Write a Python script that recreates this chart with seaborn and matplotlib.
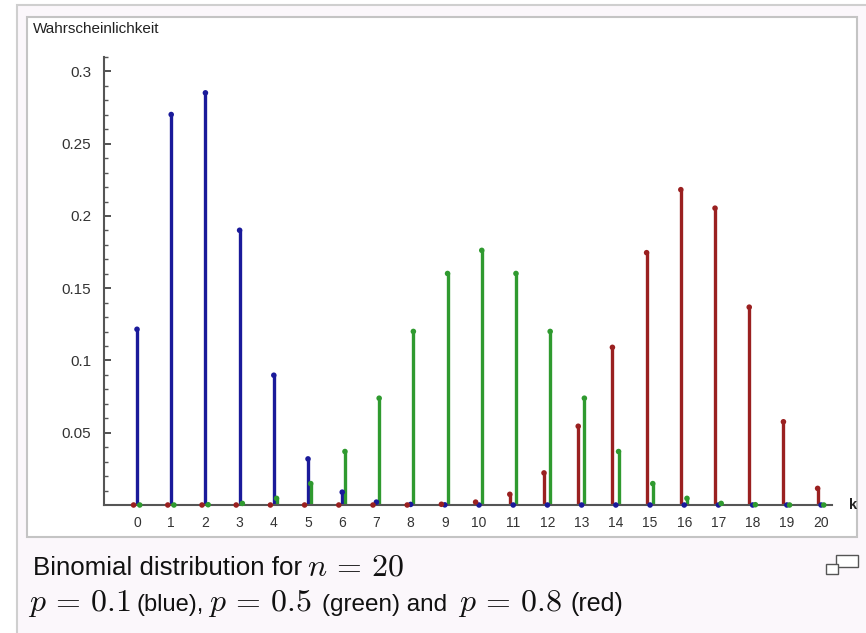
import matplotlib
matplotlib.use("Agg")
import matplotlib.pyplot as plt
import seaborn as sns
import pandas as pd
from matplotlib.patches import Rectangle

# ---- data ----
k_values = list(range(21))
p_blue = [0.1216, 0.2702, 0.2852, 0.1901, 0.0898, 0.0319, 0.0089, 0.0020, 0.0004, 0.0001,
          0.0, 0.0, 0.0, 0.0, 0.0, 0.0, 0.0, 0.0, 0.0, 0.0, 0.0]
p_green = [0.0, 0.0, 0.0002, 0.0011, 0.0046, 0.0148, 0.0370, 0.0739, 0.1201, 0.1602, 0.1762,
           0.1602, 0.1201, 0.0739, 0.0370, 0.0148, 0.0046, 0.0011, 0.0002, 0.0, 0.0]
p_red = [0.0, 0.0, 0.0, 0.0, 0.0, 0.0, 0.0, 0.0, 0.0, 0.0005, 0.0020,
         0.0074, 0.0222, 0.0545, 0.1091, 0.1746, 0.2182, 0.2054, 0.1369, 0.0576, 0.0115]
series_names = ["p=0.1", "p=0.5", "p=0.8"]
y_ticks = [0.05, 0.1, 0.15, 0.2, 0.25, 0.3]
y_tick_labels = ["0.05", "0.1", "0.15", "0.2", "0.25", "0.3"]
x_tick_labels = [str(k) for k in k_values]

colors = {"p=0.8": "#9a2020", "p=0.1": "#1a1a9a", "p=0.5": "#2f9a2f"}
offsets = {"p=0.8": -0.1, "p=0.1": 0.0, "p=0.5": 0.08}

rows = []
for name, vals in zip(series_names, [p_blue, p_green, p_red]):
    for k, v in zip(k_values, vals):
        rows.append({"series": name, "k": k, "x": k + offsets[name], "prob": v})
df = pd.DataFrame(rows)

sns.set_theme(style="white")
plt.rcParams["font.family"] = ["Liberation Sans", "DejaVu Sans"]
plt.rcParams["mathtext.fontset"] = "cm"

W, H = 866, 633
fig = plt.figure(figsize=(W / 100, H / 100), dpi=100)
fig.patch.set_facecolor("white")

# background / frame axes in pixel coordinates
bg = fig.add_axes([0, 0, 1, 1], zorder=0)
bg.set_xlim(0, W)
bg.set_ylim(H, 0)
bg.axis("off")
bg.add_patch(Rectangle((17, 5), W - 17 + 5, H, facecolor="#fbf7fb", edgecolor="#cfcfcf", lw=1.5))
bg.add_patch(Rectangle((27, 17), 830, 520, facecolor="white", edgecolor="#c4c4c4", lw=1.5))
# enlarge icon
bg.add_patch(Rectangle((836, 555), 22, 12, facecolor="white", edgecolor="#555555", lw=1.0))
bg.add_patch(Rectangle((826, 564), 12, 10, facecolor="white", edgecolor="#555555", lw=1.0))

bg.text(33, 29, "Wahrscheinlichkeit", fontsize=11, color="#222222", va="center", ha="left")
bg.text(853, 505, "k", fontsize=10.5, fontweight="bold", color="#222222", va="center", ha="center")

# caption
txt_fs = 18.6
math_fs = 23
small_fs = 17
cap = "#111111"
bg.text(33, 575, "Binomial distribution for", fontsize=txt_fs, color=cap, va="baseline")
bg.text(307, 575, r"$n\, =\, 20$", fontsize=math_fs, color=cap, va="baseline")
bg.text(28, 611, r"$p\, =\, 0.1$", fontsize=math_fs, color=cap, va="baseline")
bg.text(136, 611, "(blue),", fontsize=small_fs, color=cap, va="baseline")
bg.text(208, 611, r"$p\, =\, 0.5$", fontsize=math_fs, color=cap, va="baseline")
bg.text(322, 611, "(green) and", fontsize=small_fs + 0.5, color=cap, va="baseline")
bg.text(458, 611, r"$p\, =\, 0.8$", fontsize=math_fs, color=cap, va="baseline")
bg.text(571, 611, "(red)", fontsize=small_fs + 1, color=cap, va="baseline")

# main chart axes
ax = fig.add_axes([104 / W, (H - 505) / H, 728 / W, 448 / H], zorder=1)
ax.set_facecolor("none")

for name in series_names:
    sub = df[df["series"] == name]
    ax.vlines(sub["x"], 0, sub["prob"], color=colors[name], lw=2.4, zorder=2)
sns.scatterplot(data=df, x="x", y="prob", hue="series", palette=colors,
                hue_order=series_names, s=16, edgecolor="none", legend=False,
                ax=ax, zorder=3, clip_on=False)

ax.set_xlim(-0.965, 20.32)
ax.set_ylim(0, 0.31)
ax.set_xticks(k_values)
ax.set_xticklabels(x_tick_labels)
ax.set_yticks(y_ticks)
ax.set_yticklabels(y_tick_labels)
ax.set_yticks([i / 100 for i in range(1, 32)], minor=True)
ax.set_xlabel("")
ax.set_ylabel("")
ax.tick_params(axis="x", length=0, pad=8, labelsize=10, colors="#333333")
ax.tick_params(axis="y", which="major", direction="in", length=5, width=1.2,
               pad=9, labelsize=11, colors="#333333", left=True)
ax.tick_params(axis="y", which="minor", direction="in", length=3, width=1.0,
               colors="#555555", left=True)
for s in ["top", "right"]:
    ax.spines[s].set_visible(False)
for s in ["left", "bottom"]:
    ax.spines[s].set_color("#555555")
    ax.spines[s].set_linewidth(1.5)
ax.grid(False)

fig.savefig("out.png", dpi=100)
